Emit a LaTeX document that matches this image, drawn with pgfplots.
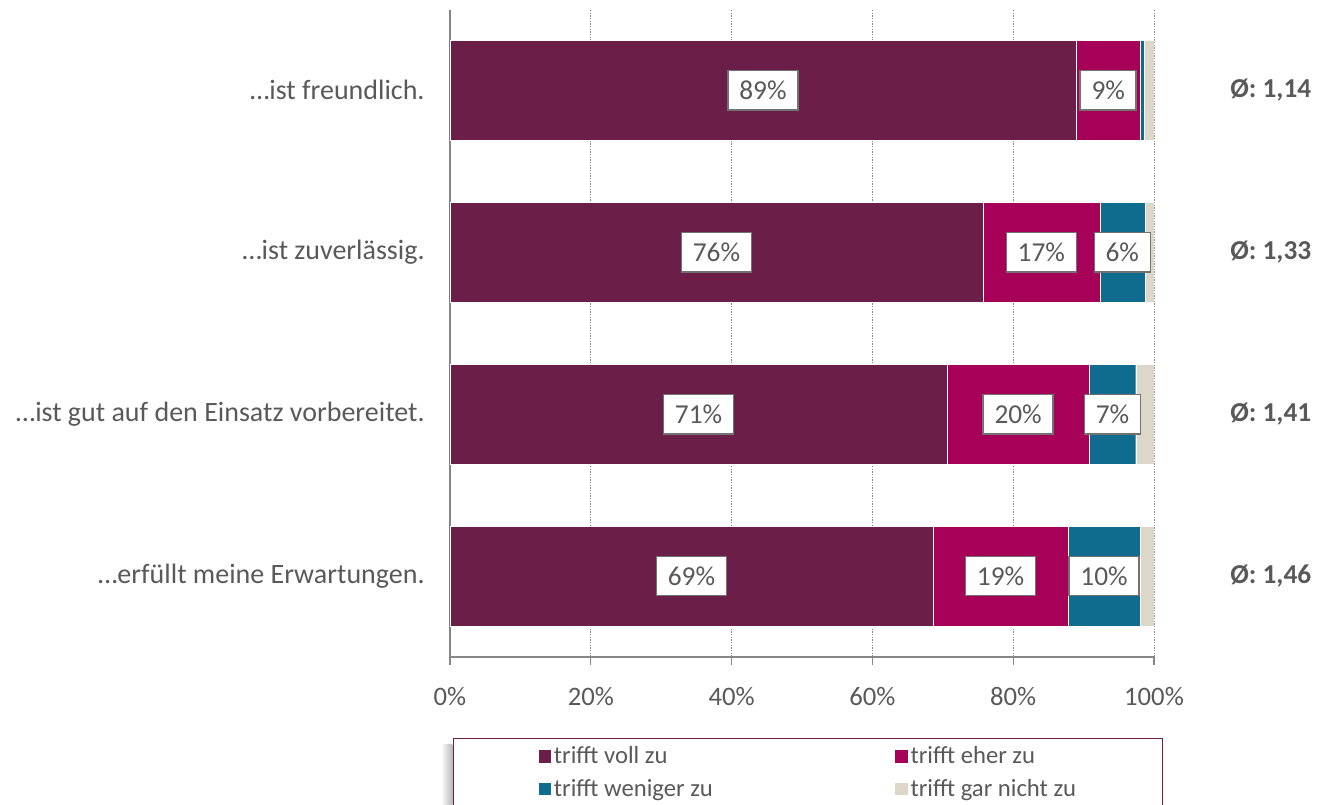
\documentclass[border=0pt]{standalone}
\usepackage{pgfplots}
\pgfplotsset{compat=1.18}
\usepackage{pgfplotstable}
\usepackage{fontspec}
\setmainfont{Carlito}

\definecolor{voll}{HTML}{6A1E48}
\definecolor{eher}{HTML}{A60058}
\definecolor{weniger}{HTML}{0F6C8F}
\definecolor{gar}{HTML}{DDD7CA}
\definecolor{txt}{HTML}{595959}
\definecolor{axl}{HTML}{868686}

% values in percent, row 0 = top bar
\pgfplotstableread{
y voll eher weniger gar
0 88.9 9.2 0.5 1.4
1 75.7 16.6 6.4 1.3
2 70.6 20.2 6.6 2.6
3 68.6 19.2 10.2 2.0
}\data

\pgfplotstableread{
y avg
0 1,14
1 1,33
2 1,41
3 1,46
}\avgs

\begin{document}
\begin{tikzpicture}[font=\fontsize{20.5}{24}\selectfont, text=txt]
\useasboundingbox (-337.5pt,-111pt) rectangle (665.25pt,492.75pt);
\pgfplotsset{
  base/.style={
    at={(0,0)}, anchor=south west,
    scale only axis, width=528pt, height=485.25pt,
    xmin=0, xmax=100, ymin=-0.495, ymax=3.5, y dir=reverse,
    enlargelimits=false,
  },
}
\begin{axis}[base,
  xbar stacked, bar width=75pt,
  axis lines*=left,
  axis line style={axl, line width=0.8pt},
  xtick={0,20,40,60,80,100},
  xticklabels={0\%,20\%,40\%,60\%,80\%,100\%},
  ytick={0,1,2,3},
  yticklabels={…ist freundlich.,…ist zuverlässig.,…ist gut auf den Einsatz vorbereitet.,…erfüllt meine Erwartungen.},
  y tick style={draw=none},
  x tick style={axl, line width=0.8pt},
  tick align=outside, major tick length=6pt,
  yticklabel style={xshift=-9.5pt, font=\fontsize{21}{25}\selectfont},
  xticklabel style={yshift=-13pt, font=\fontsize{20}{24}\selectfont},
  xmajorgrids, grid style={axl, dash pattern=on 1pt off 1pt, line width=0.6pt},
  legend style={at={(0.0043,-0.1252)}, anchor=north west, draw=voll, line width=0.8pt,
    inner xsep=63pt, inner ysep=4pt, legend columns=2,
    /tikz/every even column/.append style={column sep=134pt},
    row sep=6pt, fill=white, font=\fontsize{18.5}{22}\selectfont},
  legend cell align=left,
  legend image code/.code={\fill[#1] (0pt,-5pt) rectangle (10pt,5pt);},
]
\addplot[fill=voll, draw=white, line width=0.3pt] table[x=voll, y=y] {\data};
\addlegendentry{trifft voll zu}
\addplot[fill=eher, draw=white, line width=0.3pt] table[x=eher, y=y] {\data};
\addlegendentry{trifft eher zu}
\addplot[fill=weniger, draw=white, line width=0.3pt] table[x=weniger, y=y] {\data};
\addlegendentry{trifft weniger zu}
\addplot[fill=gar, draw=white, line width=0.3pt] table[x=gar, y=y] {\data};
\addlegendentry{trifft gar nicht zu}
\end{axis}

\begin{axis}[base, hide axis, clip=false,
  nodes near coords={\pgfmathprintnumber[fixed,precision=0,assume math mode=true]{\pgfplotspointmeta}\%},
  every node near coord/.style={anchor=center, fill=white, draw=txt!85, line width=1.2pt,
    inner xsep=8.5pt, inner ysep=0pt, minimum height=29.5pt, text=txt,
    font=\fontsize{20.5}{24}\selectfont},
]
% soft shadow left of the legend box
\shade[left color=white, right color=black!28]
  (axis description cs:-0.013,-0.135) rectangle (axis description cs:0.0035,-0.30);
\addplot[draw=none, mark=none, point meta=\thisrow{voll}]
  table[x expr=\thisrow{voll}/2, y=y] {\data};
\addplot[draw=none, mark=none, point meta=\thisrow{eher}]
  table[x expr=\thisrow{voll}+\thisrow{eher}/2, y=y] {\data};
\addplot[draw=none, mark=none, point meta=\thisrow{weniger}, skip coords between index={0}{1}]
  table[x expr=\thisrow{voll}+\thisrow{eher}+\thisrow{weniger}/2, y=y] {\data};
\addplot[draw=none, mark=none, point meta=explicit symbolic,
  nodes near coords={\textbf{Ø: \pgfplotspointmeta}},
  every node near coord/.style={anchor=east, text=txt, font=\fontsize{20.5}{24}\selectfont}]
  table[x expr=123.0, y=y, meta=avg] {\avgs};
\end{axis}
\end{tikzpicture}
\end{document}
